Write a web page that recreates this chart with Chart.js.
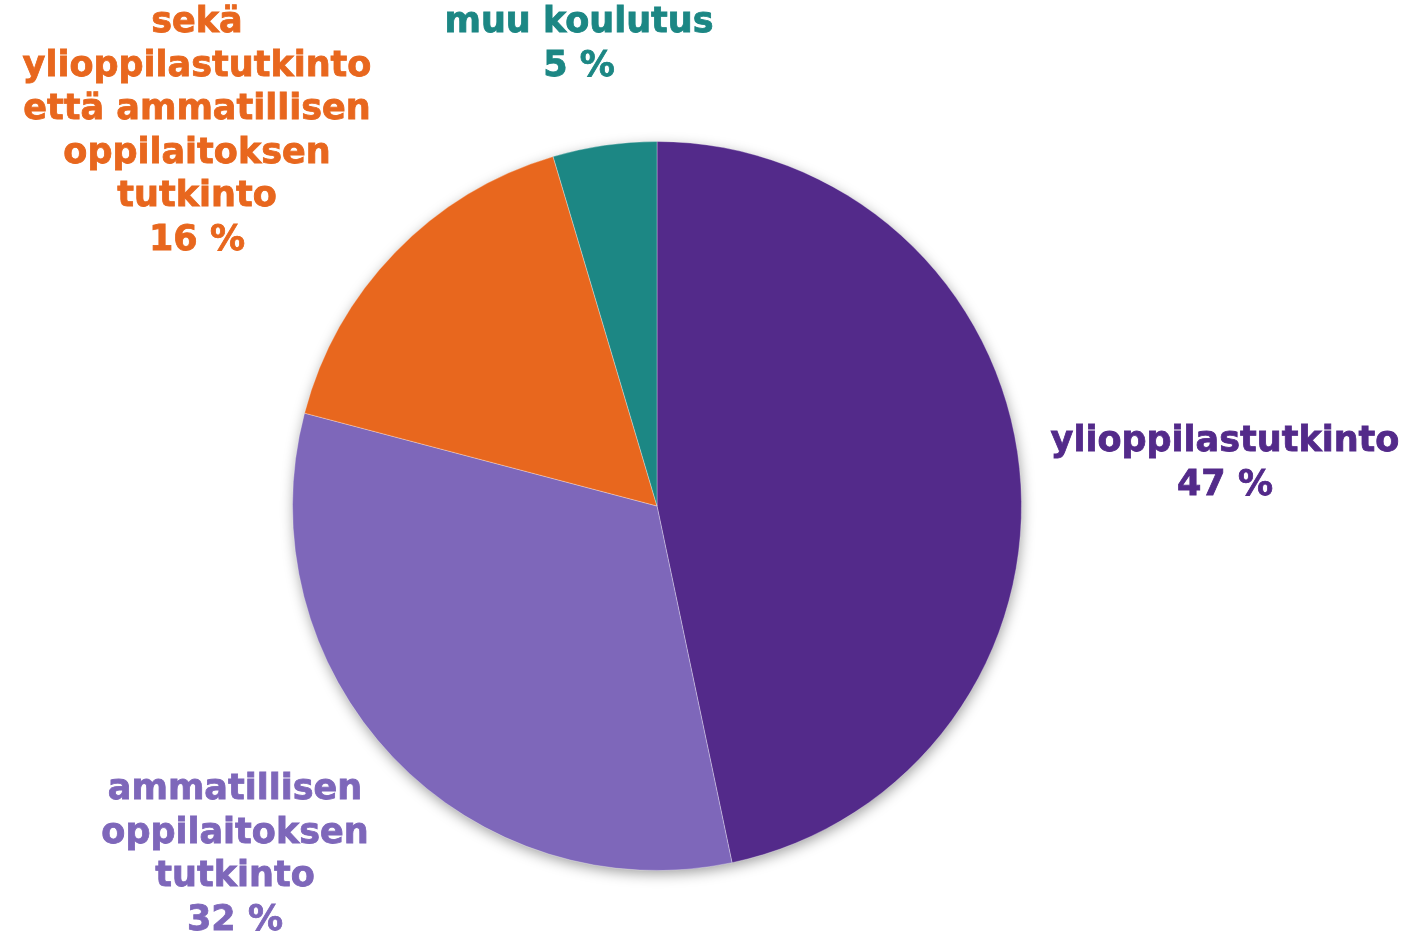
<!DOCTYPE html>
<html>
<head>
<meta charset="utf-8">
<script src="https://cdn.jsdelivr.net/npm/chart.js@4/dist/chart.umd.min.js"></script>
<style>
  html, body { margin: 0; padding: 0; background: #ffffff; }
  #wrap { width: 1407px; height: 934px; }
</style>
</head>
<body>
<div id="wrap"><canvas id="chart" width="1407" height="934"></canvas></div>
<script>
// --- data ---
const categories = [
    ['ylioppilastutkinto'],
    ['ammatillisen', 'oppilaitoksen', 'tutkinto'],
    ['sekä', 'ylioppilastutkinto', 'että ammatillisen', 'oppilaitoksen', 'tutkinto'],
    ['muu koulutus']
];
const shares = [46.7, 32.4, 16.3, 4.6];
const shareLabels = ['47 %', '32 %', '16 %', '5 %'];
const sliceColors = ['#532a8a', '#7e67ba', '#e8671e', '#1c8784'];

// label block anchors (centre x, first line y)
const labelAnchors = [
    { x: 1225, y: 442 },
    { x: 235, y: 790 },
    { x: 197, y: 23 },
    { x: 579, y: 23 }
];

// soft shadow under the whole pie
const pieShadow = {
    id: 'pieShadow',
    beforeDatasetsDraw(chart) {
        const arc = chart.getDatasetMeta(0).data[0];
        if (!arc) return;
        const ctx = chart.ctx;
        ctx.save();
        ctx.shadowColor = 'rgba(0,0,0,0.4)';
        ctx.shadowBlur = 14;
        ctx.shadowOffsetX = 1;
        ctx.shadowOffsetY = 4;
        ctx.fillStyle = '#ffffff';
        ctx.beginPath();
        ctx.arc(arc.x, arc.y, arc.outerRadius - 1, 0, Math.PI * 2);
        ctx.fill();
        ctx.restore();
    }
};

const sliceLabels = {
    id: 'sliceLabels',
    afterDatasetsDraw(chart) {
        const ctx = chart.ctx;
        ctx.save();
        ctx.font = 'bold 35px "DejaVu Sans", Verdana, sans-serif';
        ctx.textAlign = 'center';
        ctx.textBaseline = 'middle';
        ctx.lineWidth = 0.8;
        categories.forEach((lines, i) => {
            const a = labelAnchors[i];
            const all = lines.concat([shareLabels[i]]);
            ctx.fillStyle = sliceColors[i];
            ctx.strokeStyle = sliceColors[i];
            all.forEach((t, j) => {
                ctx.fillText(t, a.x, a.y + j * 43.5);
                ctx.strokeText(t, a.x, a.y + j * 43.5);
            });
        });
        ctx.restore();
    }
};

new Chart(document.getElementById('chart'), {
    type: 'pie',
    data: {
        labels: categories.map(c => c.join(' ')),
        datasets: [{
            data: shares,
            backgroundColor: sliceColors,
            borderColor: 'rgba(255,255,255,0.3)',
            borderWidth: 1
        }]
    },
    options: {
        responsive: false,
        animation: false,
        layout: { padding: { left: 292, right: 385, top: 141, bottom: 63 } },
        plugins: {
            legend: { display: false },
            tooltip: { enabled: false }
        }
    },
    plugins: [pieShadow, sliceLabels]
});
</script>
</body>
</html>
